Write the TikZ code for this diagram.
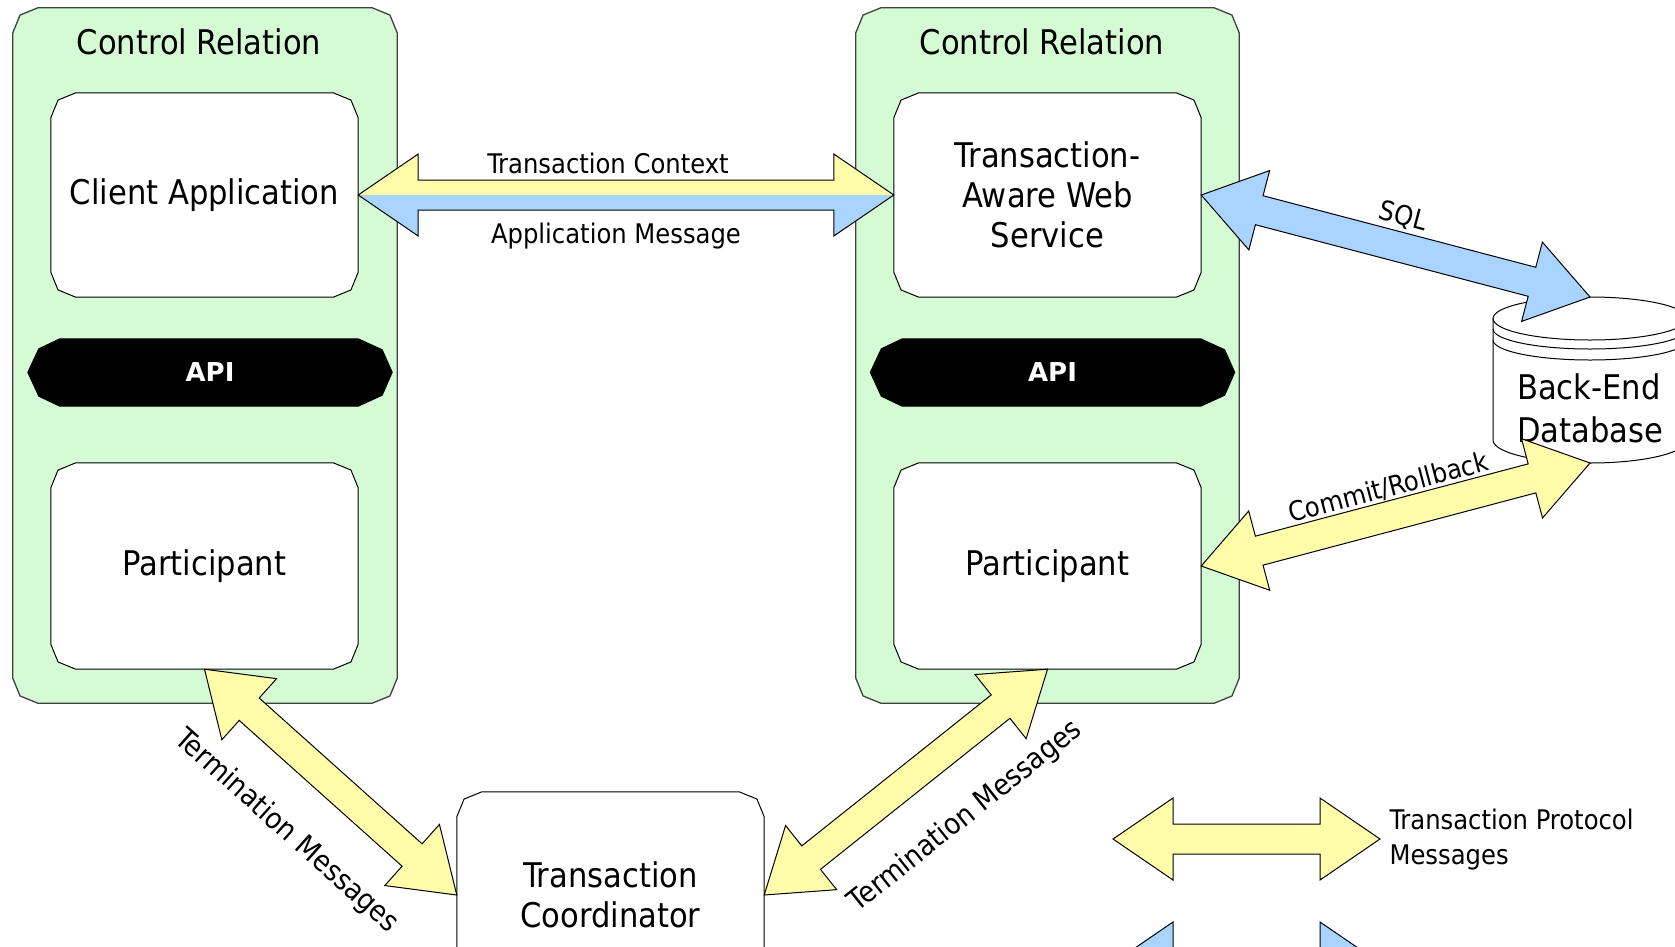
\documentclass[tikz,border=0pt]{standalone}
\usepackage{fontspec}
\setmainfont{DejaVu Sans Condensed}
\newfontfamily\apifont{DejaVu Sans}
\usetikzlibrary{calc}
\definecolor{crgreen}{RGB}{212,251,212}
\definecolor{ayellow}{RGB}{255,252,170}
\definecolor{ablue}{RGB}{168,212,255}
\pgfdeclarelayer{bg}
\pgfsetlayers{bg,main}
\def\aL{60pt}\def\aH{41pt}\def\aW{15pt}
\newcommand\fatarrow[3][]{%
 \path[#1] (#2) -- ($(#2)!\aL!(#3)!\aH!90:(#3)$) -- ($(#2)!\aL!(#3)!\aW!90:(#3)$)
  -- ($(#3)!\aL!(#2)!\aW!-90:(#2)$) -- ($(#3)!\aL!(#2)!\aH!-90:(#2)$) -- (#3)
  -- ($(#3)!\aL!(#2)!\aH!90:(#2)$) -- ($(#3)!\aL!(#2)!\aW!90:(#2)$)
  -- ($(#2)!\aL!(#3)!\aW!-90:(#3)$) -- ($(#2)!\aL!(#3)!\aH!-90:(#3)$) -- cycle;}
\newcommand\halfarrow[5][]{%
 \path[#1] (#2) -- ($(#2)!\aL!(#3)!\aH!#4:(#3)$) -- ($(#2)!\aL!(#3)!\aW!#4:(#3)$)
  -- ($(#3)!\aL!(#2)!\aW!#5:(#2)$) -- ($(#3)!\aL!(#2)!\aH!#5:(#2)$) -- (#3) -- cycle;}
\newcommand\chamfer[3][]{%
 \path[#1] let \p1=(#2.north west), \p2=(#2.south east) in
 ({\x1+#3},{\y1}) -- ({\x2-#3},{\y1}) -- ({\x2-0.29*#3},{\y1-0.29*#3}) -- ({\x2},{\y1-#3})
 -- ({\x2},{\y2+#3}) -- ({\x2-0.29*#3},{\y2+0.29*#3}) -- ({\x2-#3},{\y2}) -- ({\x1+#3},{\y2})
 -- ({\x1+0.29*#3},{\y2+0.29*#3}) -- ({\x1},{\y2+#3}) -- ({\x1},{\y1-#3}) -- ({\x1+0.29*#3},{\y1-0.29*#3}) -- cycle;}
\newcommand\apishape[2][]{%
 \path[#1] let \p1=(#2.north west), \p2=(#2.south east) in
 ({\x1+32pt},{\y1}) -- ({\x2-34pt},{\y1}) -- ({\x2-10pt},{\y1-11pt}) -- ({\x2},{\y1-33.5pt})
 -- ({\x2-10pt},{\y2+11pt}) -- ({\x2-34pt},{\y2}) -- ({\x1+32pt},{\y2}) -- ({\x1+11pt},{\y2+10pt})
 -- ({\x1},{\y1-33.5pt}) -- ({\x1+11pt},{\y1-10pt}) -- cycle;}
\begin{document}
\begin{tikzpicture}[x=1pt,y=-1pt,
  geo/.style={inner sep=0pt, draw=none},
  big/.style={font=\fontsize{34}{40}\selectfont, align=center},
  lbl/.style={font=\fontsize{27}{35}\selectfont},
  termlbl/.style={font=\fontsize{29}{35}\selectfont},
  apitext/.style={font=\apifont\bfseries\fontsize{26}{30}\selectfont, text=white},
  crfill/.style={fill=crgreen, draw=black!75, line width=1.3pt},
  boxfill/.style={fill=white, draw=black, line width=1pt},
  apifill/.style={fill=black, draw=black, line width=1pt},
  yarrow/.style={fill=ayellow, draw=black, line width=1pt},
  barrow/.style={fill=ablue, draw=black, line width=1pt},
  outl/.style={draw=black, line width=1pt},
  dbline/.style={draw=black, line width=1pt}]
\useasboundingbox (0,0) rectangle (1675,946);
% geometry nodes
\node[geo, minimum width=384, minimum height=695] (crL) at (205,355.5) {};
\node[geo, minimum width=383, minimum height=695] (crR) at (1047.5,355.5) {};
\node[big] (crLt) at (199,42) {Control Relation};
\node[big] (crRt) at (1042,42) {Control Relation};
\node[geo, big, minimum width=307, minimum height=204] (client) at (204.5,195) {Client Application};
\node[geo, big, minimum width=307, minimum height=206] (partL) at (204.5,566) {Participant};
\node[geo, big, minimum width=307, minimum height=204] (taws) at (1047.5,195) {Transaction-\\Aware Web\\Service};
\node[geo, big, minimum width=307, minimum height=206] (partR) at (1047.5,566) {Participant};
\node[geo, big, minimum width=307, minimum height=206] (tc) at (610.5,895) {Transaction\\Coordinator};
\node[geo, apitext, minimum width=364, minimum height=67] (apiL) at (210,372.5) {API};
\node[geo, apitext, minimum width=364, minimum height=67] (apiR) at (1052.5,372.5) {API};
\begin{pgfonlayer}{bg}
 \chamfer[crfill]{crL}{25pt}
 \chamfer[crfill]{crR}{25pt}
 \chamfer[boxfill]{client}{25pt}
 \chamfer[boxfill]{partL}{25pt}
 \chamfer[boxfill]{taws}{25pt}
 \chamfer[boxfill]{partR}{25pt}
 \chamfer[boxfill]{tc}{25pt}
 \apishape[apifill]{apiL}
 \apishape[apifill]{apiR}
\end{pgfonlayer}
% database
\path[fill=white, dbline] (1493,318.5) -- (1493,440) arc[start angle=180, end angle=360, x radius=97pt, y radius=23pt]
  -- (1687,318.5) arc[start angle=0, end angle=180, x radius=97pt, y radius=21.5pt] -- cycle;
\draw[dbline] (1493,318.5) arc[start angle=180, end angle=360, x radius=97pt, y radius=21.5pt];
\draw[dbline] (1493,329) arc[start angle=180, end angle=360, x radius=97pt, y radius=20pt];
\draw[dbline] (1493,340) arc[start angle=180, end angle=360, x radius=97pt, y radius=20pt];
\node[big, align=left, font=\fontsize{34}{43}\selectfont] (db) at (1590,408.5) {Back-End\\Database};
\coordinate (dbtop) at (1590,297);
\coordinate (dbbot) at (1590,463);
% legend anchors
\coordinate (legA) at (1113,839);
\coordinate (legB) at (1380,839);
\coordinate (legC) at (1113,963);
\coordinate (legD) at (1380,963);
% arrows
\halfarrow[fill=ayellow]{client.east}{taws.west}{90}{-90}
\halfarrow[fill=ablue]{client.east}{taws.west}{-90}{90}
\fatarrow[outl]{client.east}{taws.west}
\fatarrow[barrow]{taws.east}{dbtop}
\fatarrow[yarrow]{partR.east}{dbbot}
\fatarrow[yarrow]{partL.south}{tc.west}
\fatarrow[yarrow]{partR.south}{tc.east}
\fatarrow[yarrow]{legA}{legB}
\fatarrow[barrow]{legC}{legD}
% labels
\node[lbl] (tclbl) at ($(client.east)!0.5!(taws.west)+(-18,-32)$) {Transaction Context};
\node[lbl] (amlbl) at ($(client.east)!0.5!(taws.west)+(-10,41)$) {Application Message};
\path (taws.east) -- (dbtop) node[lbl, midway, sloped, anchor=south, inner sep=18pt] (sqllbl) {SQL};
\path (partR.east) -- (dbbot) node[lbl, midway, sloped, anchor=south, inner sep=16pt] (cmtlbl) {Commit/Rollback};
\path (partL.south) -- (tc.west) node[termlbl, midway, sloped, anchor=north, inner sep=52pt] (termL) {Termination Messages};
\path (partR.south) -- (tc.east) node[termlbl, pos=0.43, sloped, anchor=north, inner sep=50pt] (termR) {Termination Messages};
\node[lbl, anchor=west, align=left] (legtxt) at (1386,840) {Transaction Protocol\\Messages};
\end{tikzpicture}
\end{document}
